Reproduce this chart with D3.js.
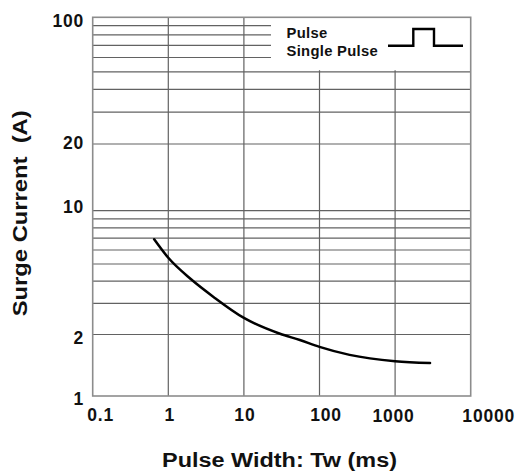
<!DOCTYPE html>
<html><head><meta charset="utf-8">
<script src="https://cdn.jsdelivr.net/npm/d3@7/dist/d3.min.js"></script>
<style>
html,body{margin:0;padding:0;background:#fff;}
text{font-family:"Liberation Sans",Arial,sans-serif;font-weight:bold;fill:#111;white-space:pre;}
</style></head>
<body>
<svg id="c" width="526" height="475"></svg>
<script>
// ---- data ----
const pulseWidth = [0.65, 1, 2, 4, 10, 30, 55, 100, 250, 1000, 2900];   // ms
const surgeCurrent = [6.9, 5.42, 4.1, 3.25, 2.48, 2.02, 1.88, 1.74, 1.59, 1.48, 1.45]; // A
const xTickValues = [0.1, 1, 10, 100, 1000, 10000];
const xTickLabels = ["0.1", "1", "10", "100", "1000", "10000"];
const yTickValues = [1, 2, 10, 20, 100];
const yTickLabels = ["1", "2", "10", "20", "100"];
const yGridFull = [2, 3, 4, 5, 6, 7, 8, 9, 10, 20, 30, 40, 50];
const yGridShort = [60, 70, 80, 90];
const xGridFull = [1, 10];
const xGridShort = [100, 1000];
const legendLabels = ["Pulse", "Single Pulse"];
const xTitle = "Pulse Width: Tw (ms)";
const yTitle = "Surge Current  (A)";

// ---- layout ----
const L = 92.7, R = 470.7, T = 17.3, B = 396;
const svg = d3.select("#c");
const x = d3.scaleLog().domain([0.1, 10000]).range([L, R]);
// the printed grid is not uniformly logarithmic; a piecewise log scale follows it
const y = d3.scaleLog().domain([1, 2, 10, 20, 100]).range([B, 334.5, 210.7, 144, T]);

const gridColor = "#626262";
const legendEdgeX = 271;

// horizontal gridlines
svg.append("g").selectAll("line").data(yGridFull).join("line")
  .attr("x1", L).attr("x2", R).attr("y1", d => y(d)).attr("y2", d => y(d))
  .attr("stroke", gridColor).attr("stroke-width", 1.2);
svg.append("g").selectAll("line").data(yGridShort).join("line")
  .attr("x1", L).attr("x2", legendEdgeX).attr("y1", d => y(d)).attr("y2", d => y(d))
  .attr("stroke", gridColor).attr("stroke-width", 1.2);
// vertical gridlines
svg.append("g").selectAll("line").data(xGridFull).join("line")
  .attr("x1", d => x(d)).attr("x2", d => x(d)).attr("y1", T).attr("y2", B)
  .attr("stroke", gridColor).attr("stroke-width", 1.2);
svg.append("g").selectAll("line").data(xGridShort).join("line")
  .attr("x1", d => x(d)).attr("x2", d => x(d)).attr("y1", y(50) - 1.5).attr("y2", B)
  .attr("stroke", gridColor).attr("stroke-width", 1.2);

// frame
svg.append("rect").attr("x", L).attr("y", T).attr("width", R - L).attr("height", B - T)
  .attr("fill", "none").attr("stroke", "#8c8c8c").attr("stroke-width", 1.6);

// curve
const line = d3.line().x((d, i) => x(pulseWidth[i])).y(d => y(d)).curve(d3.curveMonotoneX);
svg.append("path").datum(surgeCurrent).attr("d", line)
  .attr("fill", "none").attr("stroke", "#000").attr("stroke-width", 2.5)
  .attr("stroke-linecap", "round");

// x tick labels (printed positions are slightly irregular)
const xNudge = [8, 1.5, 1, 6.5, -1.5, 18];
const xNudgeY = [0, 0, 0, 0, 1.5, 1.5];
svg.append("g").selectAll("text").data(xTickValues).join("text")
  .attr("x", (d, i) => x(d) + xNudge[i]).attr("y", (d, i) => 420.5 + xNudgeY[i])
  .attr("text-anchor", "middle").attr("font-size", 17.5).attr("letter-spacing", 0.8)
  .text((d, i) => xTickLabels[i]);

// y tick labels
const yNudge = [3, 3.5, -4, -1, 3.5];
svg.append("g").selectAll("text").data(yTickValues).join("text")
  .attr("x", 84).attr("y", (d, i) => y(d) + yNudge[i])
  .attr("dy", "0.35em").attr("text-anchor", "end")
  .attr("font-size", 17.5).attr("letter-spacing", 0.8)
  .text((d, i) => yTickLabels[i]);

// axis titles
svg.append("text").attr("x", 279.5).attr("y", 467).attr("text-anchor", "middle")
  .attr("font-size", 19.5).attr("textLength", 235).attr("lengthAdjust", "spacingAndGlyphs")
  .text(xTitle);
svg.append("text").attr("transform", "translate(26.5,213.3) rotate(-90)")
  .attr("text-anchor", "middle").attr("font-size", 20)
  .attr("textLength", 206).attr("lengthAdjust", "spacingAndGlyphs")
  .text(yTitle);

// legend
const lg = svg.append("g").attr("transform", "translate(286.5,0)");
lg.append("text").attr("x", 0).attr("y", 37.5).attr("font-size", 14.8).attr("letter-spacing", 0.3).text(legendLabels[0]);
lg.append("text").attr("x", 0).attr("y", 56.2).attr("font-size", 14.8).attr("letter-spacing", 0.3).text(legendLabels[1]);
const symX = 101.5, symBase = 45.7, symTop = 29;
lg.append("path")
  .attr("d", `M${symX},${symBase}H${symX + 25.3}V${symTop}H${symX + 46}V${symBase}H${symX + 75}`)
  .attr("fill", "none").attr("stroke", "#000").attr("stroke-width", 2.4);
</script>
</body></html>
